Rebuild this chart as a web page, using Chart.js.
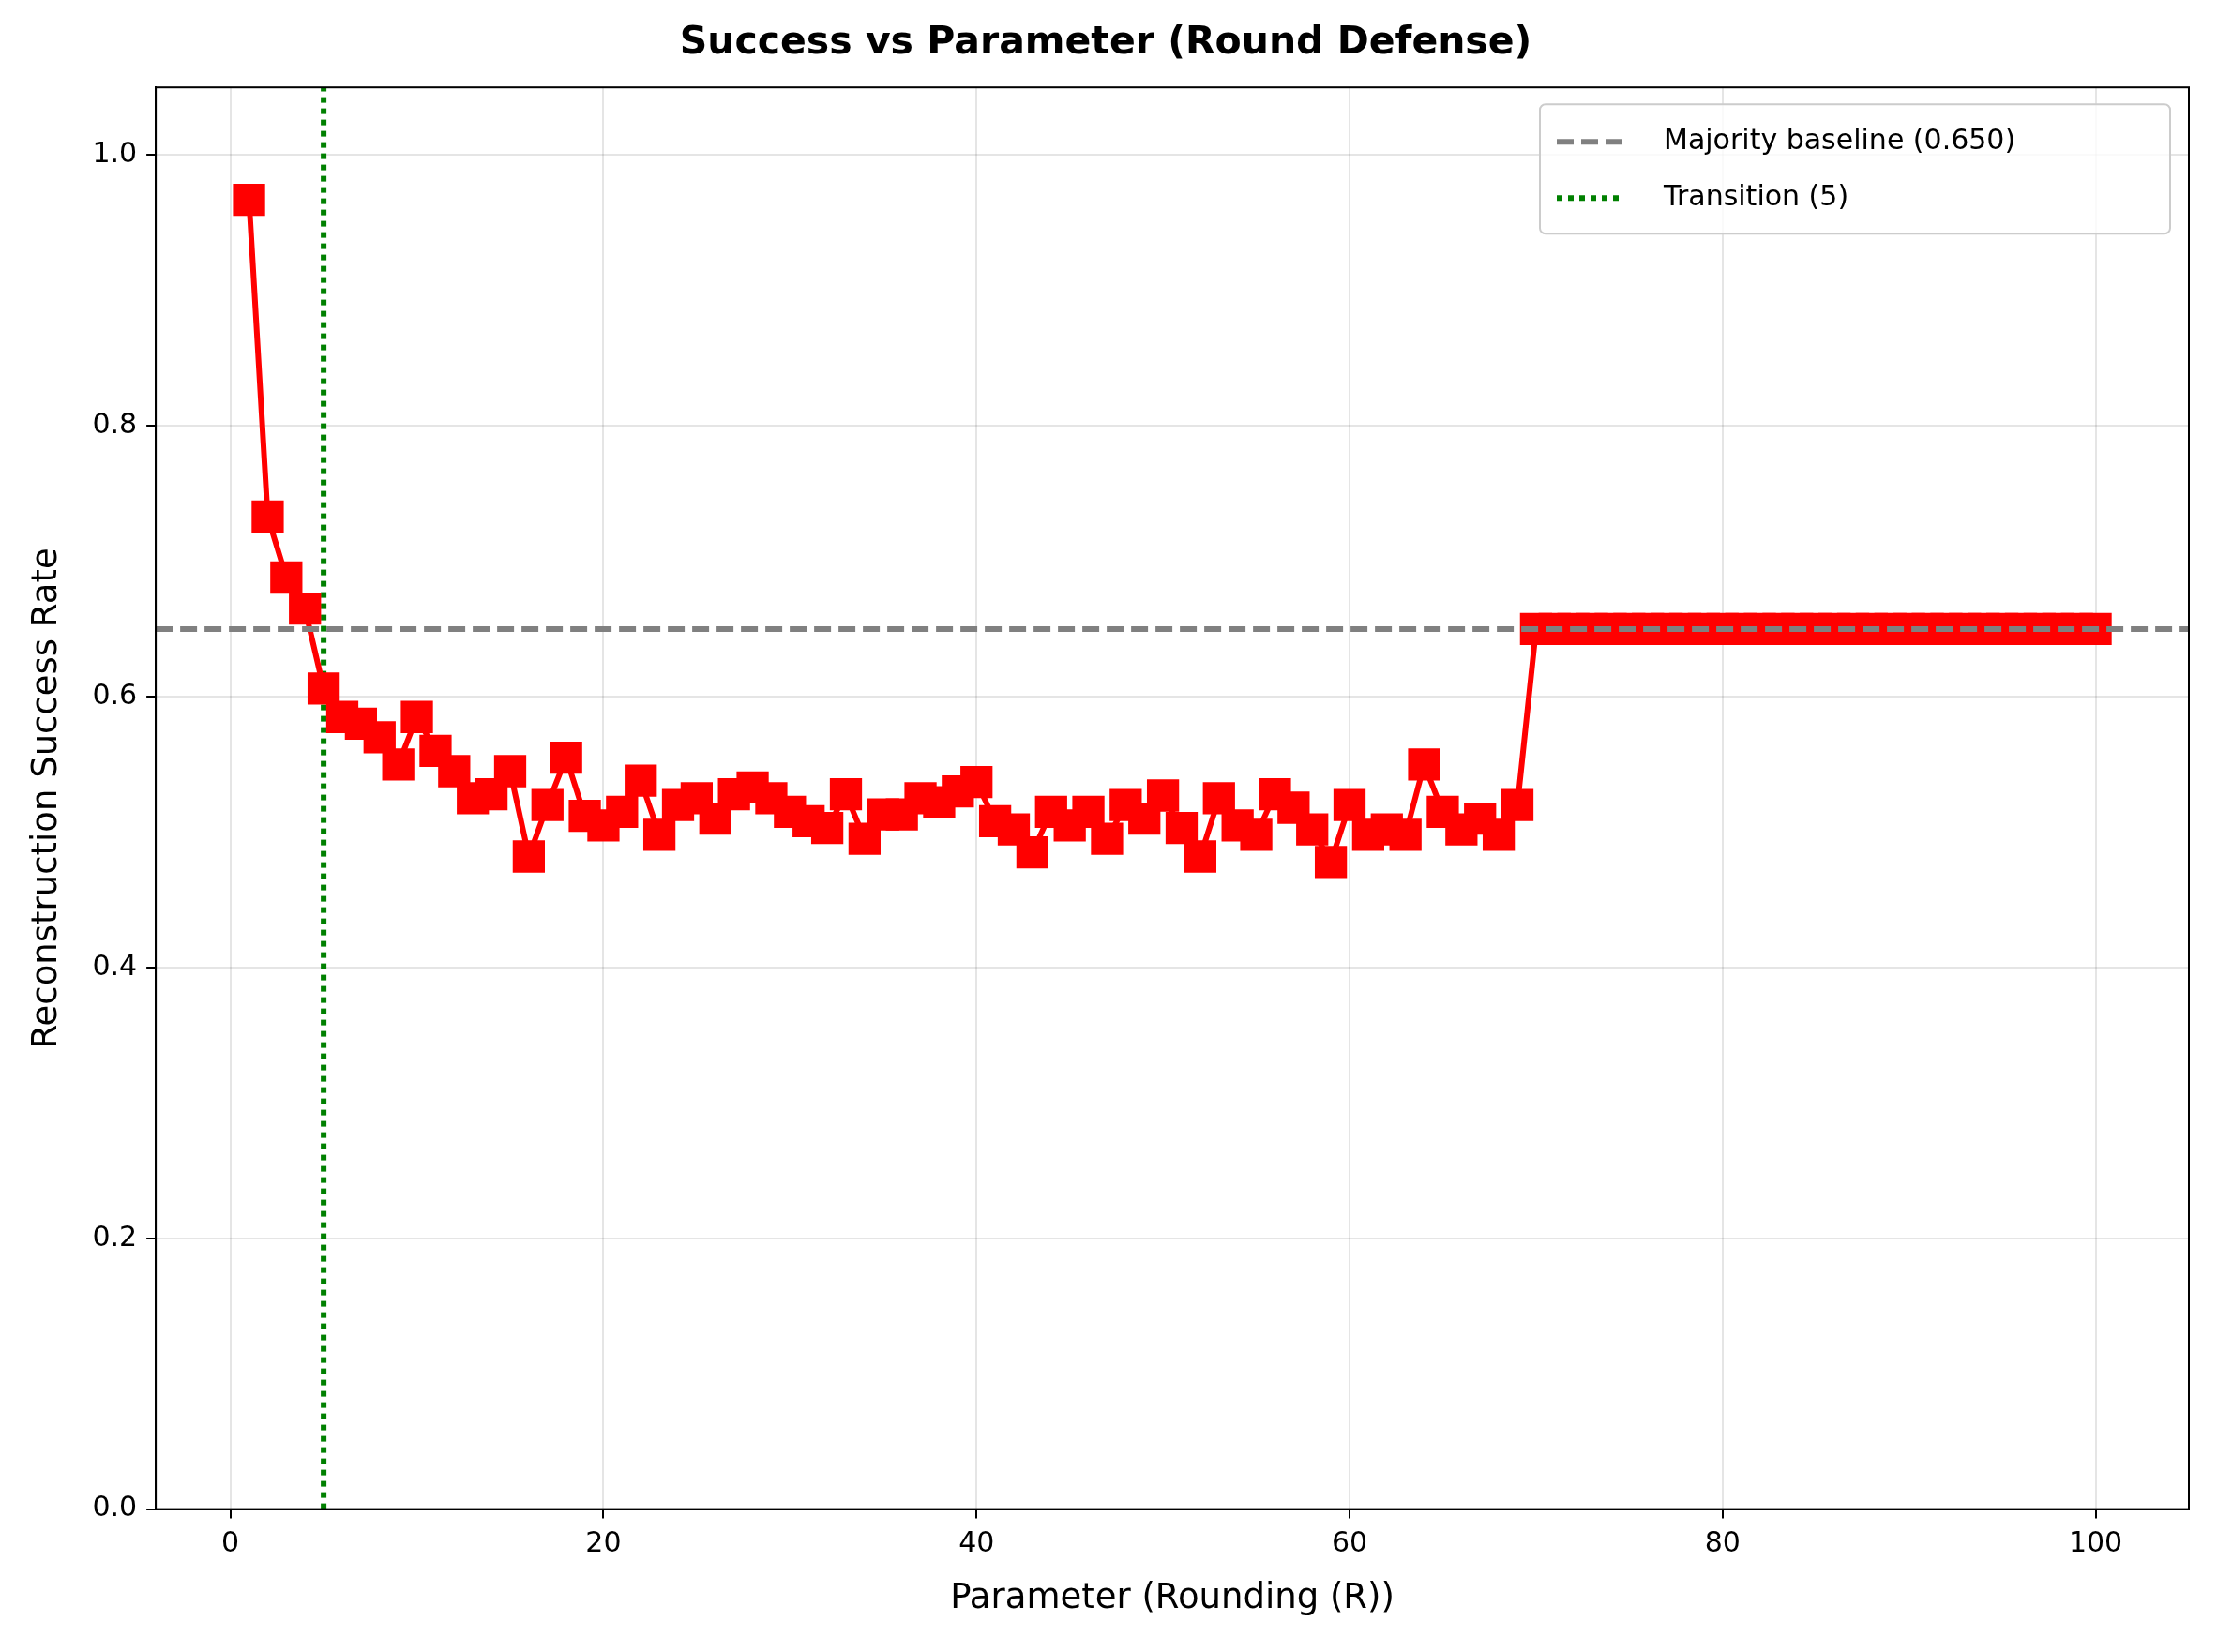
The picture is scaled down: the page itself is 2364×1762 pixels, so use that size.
<!DOCTYPE html>
<html><head><meta charset="utf-8">
<script src="https://cdn.jsdelivr.net/npm/chart.js@4"></script>
<style>html,body{margin:0;padding:0;background:#fff}canvas{display:block}</style>
</head><body>
<div style="width:2364px;height:1762px"><canvas id="c" width="2364" height="1762"></canvas></div>
<script>
const params = Array.from({length:100},(_,i)=>i+1);
const success = [0.967,0.733,0.688,0.665,0.606,0.585,0.58,0.57,0.55,0.585,
0.56,0.545,0.525,0.528,0.545,0.482,0.52,0.555,0.512,0.505,
0.515,0.538,0.498,0.52,0.525,0.51,0.528,0.533,0.525,0.515,
0.508,0.503,0.528,0.495,0.513,0.513,0.525,0.522,0.53,0.537,
0.508,0.502,0.485,0.515,0.505,0.515,0.495,0.52,0.51,0.527,
0.503,0.482,0.525,0.505,0.498,0.528,0.518,0.502,0.478,0.52,
0.498,0.502,0.498,0.55,0.515,0.502,0.51,0.498,0.52,
0.65,0.65,0.65,0.65,0.65,0.65,0.65,0.65,0.65,0.65,
0.65,0.65,0.65,0.65,0.65,0.65,0.65,0.65,0.65,0.65,
0.65,0.65,0.65,0.65,0.65,0.65,0.65,0.65,0.65,0.65,0.65];
const baseline = 0.65;
const transition = 5;
const xRange = [-4, 105];
const yRange = [0, 1.05];
const legendLabels = ['Majority baseline (0.650)', 'Transition (5)'];
const F = 'DejaVu Sans';

const legendPlugin = {
  id:'boxLegend',
  afterDraw(chart){
    const ctx = chart.ctx, a = chart.chartArea;
    ctx.save();
    ctx.strokeStyle='#000'; ctx.lineWidth=2;
    ctx.strokeRect(a.left,a.top,a.right-a.left,a.bottom-a.top);
    const w = 672, h = 138, x = a.right - w - 20, y = a.top + 18;
    ctx.fillStyle='rgba(255,255,255,0.8)';
    ctx.strokeStyle='#cccccc'; ctx.lineWidth=2;
    ctx.beginPath(); ctx.roundRect(x,y,w,h,6); ctx.fill(); ctx.stroke();
    ctx.font = '30px "'+F+'"'; ctx.fillStyle='#000'; ctx.textBaseline='middle';
    const rows=[{c:'#808080',d:[18,8]},{c:'#008000',d:[6,6]}];
    rows.forEach((r,i)=>{
      const yy = y + 40 + i*60;
      ctx.strokeStyle=r.c; ctx.lineWidth=6; ctx.setLineDash(r.d);
      ctx.beginPath(); ctx.moveTo(x+18,yy); ctx.lineTo(x+88,yy); ctx.stroke();
      ctx.setLineDash([]);
      ctx.fillText(legendLabels[i], x+132, yy);
    });
    ctx.restore();
  }
};

new Chart(document.getElementById('c'),{
  type:'scatter',
  data:{datasets:[
    {data:[{x:xRange[0],y:baseline},{x:xRange[1],y:baseline}],showLine:true,borderColor:'#808080',borderWidth:6,borderDash:[18,8],pointRadius:0,order:1},
    {data:[{x:transition,y:yRange[0]},{x:transition,y:yRange[1]}],showLine:true,borderColor:'#008000',borderWidth:6,borderDash:[6,6],pointRadius:0,order:3},
    {data:params.map((p,i)=>({x:p,y:success[i]})),showLine:true,borderColor:'#ff0000',backgroundColor:'#ff0000',borderWidth:6,pointStyle:'rect',pointRadius:20,pointHoverRadius:20,order:2}
  ]},
  options:{
    responsive:false,animation:false,devicePixelRatio:1,
    layout:{padding:{left:24,right:30,top:14,bottom:30}},
    plugins:{legend:{display:false},tooltip:{enabled:false},
      title:{display:true,text:'Success vs Parameter (Round Defense)',font:{family:F,size:41,weight:'bold'},color:'#000',padding:{top:8,bottom:22}}},
    scales:{
      x:{type:'linear',min:xRange[0],max:xRange[1],
        afterBuildTicks(ax){ax.ticks=[0,20,40,60,80,100].map(v=>({value:v}));},
        ticks:{font:{family:F,size:30},color:'#000',padding:10},
        grid:{color:'rgba(0,0,0,0.1)',lineWidth:2,tickLength:10,tickColor:'#000'},
        border:{color:'#000',width:2},
        title:{display:true,text:'Parameter (Rounding (R))',font:{family:F,size:37},color:'#000',padding:{top:8}}},
      y:{min:yRange[0],max:yRange[1],
        afterBuildTicks(ax){ax.ticks=[0,0.2,0.4,0.6,0.8,1.0].map(v=>({value:v}));},
        ticks:{font:{family:F,size:30},color:'#000',padding:10,callback:v=>v.toFixed(1)},
        grid:{color:'rgba(0,0,0,0.1)',lineWidth:2,tickLength:10,tickColor:'#000'},
        border:{color:'#000',width:2},
        title:{display:true,text:'Reconstruction Success Rate',font:{family:F,size:37},color:'#000',padding:{bottom:16}}}
    }
  },
  plugins:[legendPlugin]
});
</script></body></html>
